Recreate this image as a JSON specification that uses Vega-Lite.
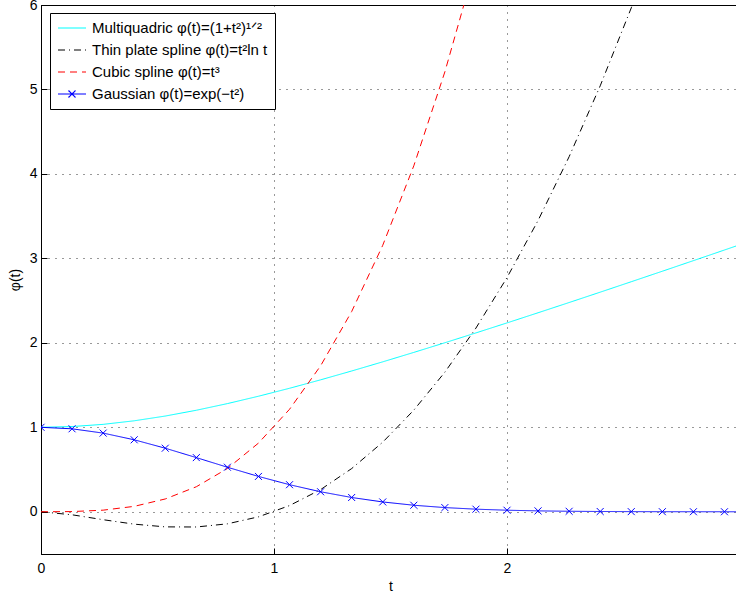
{
  "$schema": "https://vega.github.io/schema/vega-lite/v6.json",
  "width": 699,
  "height": 549,
  "autosize": {"type": "none"},
  "padding": {"left": 41, "top": 5, "right": 0, "bottom": 42},
  "background": "white",
  "config": {
    "font": "Liberation Sans",
    "view": {"stroke": "black", "strokeWidth": 1}
  },
  "data": {
    "values": [
      {"t": 0, "mq": 1, "tp": 0, "cs": 0, "ga": 1},
      {"t": 0.1333, "mq": 1.0089, "tp": -0.0358, "cs": 0.0024, "ga": 0.9824},
      {"t": 0.2667, "mq": 1.0349, "tp": -0.094, "cs": 0.019, "ga": 0.9314},
      {"t": 0.4, "mq": 1.077, "tp": -0.1466, "cs": 0.064, "ga": 0.8521},
      {"t": 0.5333, "mq": 1.1333, "tp": -0.1788, "cs": 0.1517, "ga": 0.7525},
      {"t": 0.6667, "mq": 1.2019, "tp": -0.1802, "cs": 0.2963, "ga": 0.6412},
      {"t": 0.8, "mq": 1.2806, "tp": -0.1428, "cs": 0.512, "ga": 0.5273},
      {"t": 0.9333, "mq": 1.3679, "tp": -0.0601, "cs": 0.813, "ga": 0.4185},
      {"t": 1.0667, "mq": 1.4621, "tp": 0.0734, "cs": 1.2136, "ga": 0.3205},
      {"t": 1.2, "mq": 1.562, "tp": 0.2625, "cs": 1.728, "ga": 0.2369},
      {"t": 1.3333, "mq": 1.6667, "tp": 0.5114, "cs": 2.3704, "ga": 0.169},
      {"t": 1.4667, "mq": 1.7751, "tp": 0.8239, "cs": 3.155, "ga": 0.1163},
      {"t": 1.6, "mq": 1.8868, "tp": 1.2032, "cs": 4.096, "ga": 0.0773},
      {"t": 1.7333, "mq": 2.0011, "tp": 1.6526, "cs": 5.2077, "ga": 0.0496},
      {"t": 1.8667, "mq": 2.1177, "tp": 2.1748, "cs": 6.5043, "ga": 0.0307},
      {"t": 2.0, "mq": 2.2361, "tp": 2.7726, "cs": 8, "ga": 0.0183},
      {"t": 2.1333, "mq": 2.3561, "tp": 3.4483, "cs": 9.7087, "ga": 0.0106},
      {"t": 2.2667, "mq": 2.4775, "tp": 4.2043, "cs": 11.6456, "ga": 0.0059},
      {"t": 2.4, "mq": 2.6, "tp": 5.0427, "cs": 13.824, "ga": 0.0032},
      {"t": 2.5333, "mq": 2.7236, "tp": 5.9656, "cs": 16.258, "ga": 0.0016},
      {"t": 2.6667, "mq": 2.848, "tp": 6.9748, "cs": 18.963, "ga": 0.0008},
      {"t": 2.8, "mq": 2.9732, "tp": 8.0721, "cs": 21.952, "ga": 0.0004},
      {"t": 2.9333, "mq": 3.0991, "tp": 9.2594, "cs": 25.2397, "ga": 0.0002},
      {"t": 3.0667, "mq": 3.2256, "tp": 10.5, "cs": 28.84, "ga": 0.0001}
    ]
  },
  "transform": [{"fold": ["mq", "tp", "cs", "ga"], "as": ["series", "y"]}],
  "encoding": {
    "x": {
      "field": "t", "type": "quantitative",
      "scale": {"domain": [0, 3], "nice": false, "zero": false},
      "axis": {
        "values": [0, 1, 2, 3], "title": "t", "grid": true,
        "gridDash": [1, 6], "gridColor": "#000000", "gridOpacity": 0.8,
        "domainColor": "#000000", "tickColor": "#000000", "tickSize": -6,
        "labelPadding": 13, "labelFontSize": 14, "labelColor": "#000000",
        "labelFlush": false, "titleFontSize": 14, "titleFontWeight": "normal",
        "titleColor": "#000000", "titlePadding": 4
      }
    },
    "y": {
      "field": "y", "type": "quantitative",
      "scale": {"domain": [-0.5, 6], "nice": false, "zero": false},
      "axis": {
        "values": [0, 1, 2, 3, 4, 5, 6], "title": "φ(t)", "grid": true,
        "gridDash": [1, 6], "gridColor": "#000000", "gridOpacity": 0.8,
        "domainColor": "#000000", "tickColor": "#000000", "tickSize": -6,
        "labelPadding": 10, "labelFontSize": 14, "labelColor": "#000000",
        "labelFlush": false, "titleFontSize": 14, "titleFontWeight": "normal",
        "titleColor": "#000000", "titlePadding": 7
      }
    }
  },
  "layer": [
    {
      "mark": {"type": "line", "clip": true, "strokeWidth": 1},
      "encoding": {
        "color": {
          "field": "series", "type": "nominal",
          "scale": {"domain": ["mq", "tp", "cs", "ga"], "range": ["#00ffff", "#000000", "#ff0000", "#0000ff"]},
          "legend": {
            "title": null, "orient": "none", "legendX": 9, "legendY": 8,
            "padding": 7, "rowPadding": 6, "fillColor": "white", "strokeColor": "#000000",
            "cornerRadius": 0, "labelFontSize": 15, "labelColor": "#000000",
            "labelLimit": 400, "symbolSize": 196, "symbolStrokeWidth": 1.2, "labelOffset": 19,
            "labelExpr": "{'mq': 'Multiquadric φ(t)=(1+t²)¹ᐟ²', 'tp': 'Thin plate spline φ(t)=t²ln t', 'cs': 'Cubic spline φ(t)=t³', 'ga': 'Gaussian φ(t)=exp(−t²)'}[datum.value]",
            "encode": {
              "symbols": {
                "update": {
                  "shape": {"signal": "datum.value === 'ga' ? 'M-1,0H3M0.5,-0.5L1.5,0.5M0.5,0.5L1.5,-0.5' : 'M-1,0H3'"},
                  "stroke": {"scale": "color", "field": "value"},
                  "strokeOpacity": {"value": 1},
                  "opacity": {"value": 1},
                  "fill": {"value": "transparent"}
                }
              }
            }
          }
        },
        "strokeDash": {
          "field": "series", "type": "nominal",
          "scale": {"domain": ["mq", "tp", "cs", "ga"], "range": [[1, 0], [7, 4, 1, 4], [7, 5], [1, 0]]},
          "legend": null
        }
      }
    },
    {
      "transform": [{"filter": "datum.series === 'ga'"}],
      "mark": {"type": "point", "shape": "M-1,-1L1,1M-1,1L1,-1", "size": 49, "filled": false, "color": "#0000ff", "strokeWidth": 1, "opacity": 1, "clip": true}
    }
  ]
}
